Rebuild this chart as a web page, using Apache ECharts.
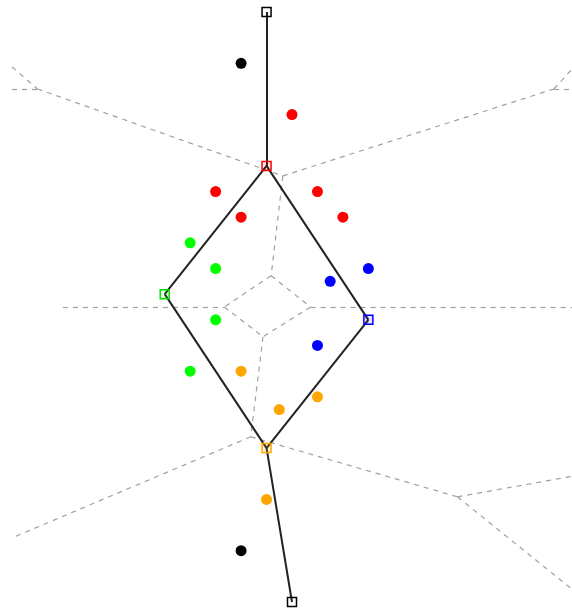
<!DOCTYPE html>
<html>
<head>
<meta charset="utf-8">
<script src="https://cdn.jsdelivr.net/npm/echarts@6/dist/echarts.min.js"></script>
<style>
  html, body { margin: 0; padding: 0; background: #fff; }
  #chart { width: 572px; height: 612px; }
</style>
</head>
<body>
<div id="chart"></div>
<script>
// Sample points, grouped by cluster
const redPoints = [[1, 6], [-2, 3], [2, 3], [-1, 2], [3, 2]];
const greenPoints = [[-3, 1], [-2, 0], [-2, -2], [-3, -4]];
const bluePoints = [[4, 0], [2.5, -0.5], [2, -3]];
const orangePoints = [[-1, -4], [0.5, -5.5], [2, -5], [0, -9]];
const blackPoints = [[-1, 8], [-1, -11]];

// Network nodes and their links
const nodeNames = ['top', 'red', 'green', 'blue', 'orange', 'bottom'];
const nodePositions = [[0, 10], [0, 4], [-4, -1], [4, -2], [0, -7], [1, -13]];
const nodeColors = ['#000000', '#ff0000', '#00dd00', '#0000ff', '#ffa500', '#000000'];
const nodeFills = ['rgba(255,255,255,0)', 'rgba(255,0,0,0.08)', 'rgba(0,255,0,0.12)', 'rgba(0,0,255,0.12)', 'rgba(255,165,0,0.12)', 'rgba(255,255,255,0)'];
const nodeLinks = [[0, 1], [1, 2], [1, 3], [2, 4], [3, 4], [4, 5]];

// Cell boundaries (segment endpoints)
const boundarySegments = [
  [[-10, 7], [-9, 7]],
  [[-10, 7.86], [-9, 7]],
  [[-9, 7], [0.64, 3.61]],
  [[0.64, 3.61], [11.29, 7.0]],
  [[11.29, 7.0], [12, 7.0]],
  [[11.29, 7.0], [12, 7.77]],
  [[0.64, 3.61], [0.18, -0.28]],
  [[0.18, -0.28], [-1.66, -1.5]],
  [[0.18, -0.28], [1.73, -1.5]],
  [[-1.66, -1.5], [-0.14, -2.66]],
  [[1.73, -1.5], [-0.14, -2.66]],
  [[-8, -1.5], [-1.66, -1.5]],
  [[1.73, -1.5], [12, -1.5]],
  [[-0.14, -2.66], [-0.62, -6.56]],
  [[-0.62, -6.56], [-10, -10.5]],
  [[-0.62, -6.56], [7.5, -8.9]],
  [[7.5, -8.9], [12, -8.1]],
  [[7.5, -8.9], [12, -12.5]]
];

const chart = echarts.init(document.getElementById('chart'), null, { renderer: 'canvas' });

const pointSeries = (data, color) => ({
  type: 'scatter',
  data: data,
  symbol: 'circle',
  symbolSize: 11,
  itemStyle: { color: color, opacity: 1 },
  z: 5,
  silent: true
});

chart.setOption({
  animation: false,
  backgroundColor: '#ffffff',
  grid: { left: 12, top: 12, width: 564.3, height: 590, containLabel: false },
  xAxis: { type: 'value', min: -10, max: 12, show: false },
  yAxis: { type: 'value', min: -13, max: 10, show: false },
  series: [
    {
      type: 'lines',
      coordinateSystem: 'cartesian2d',
      data: boundarySegments.map(s => ({ coords: s })),
      lineStyle: { color: '#a0a0a0', width: 1.2, type: [5, 5], opacity: 1 },
      z: 1,
      silent: true
    },
    {
      type: 'lines',
      coordinateSystem: 'cartesian2d',
      data: nodeLinks.map(([a, b]) => ({ coords: [nodePositions[a], nodePositions[b]] })),
      lineStyle: { color: '#222222', width: 2, opacity: 1 },
      z: 2,
      silent: true
    },
    {
      type: 'scatter',
      data: nodePositions.map((p, i) => ({
        name: nodeNames[i],
        value: p,
        itemStyle: { color: nodeFills[i], borderColor: nodeColors[i], borderWidth: 1.5, opacity: 1 }
      })),
      symbol: 'rect',
      symbolSize: 9,
      z: 4,
      silent: true
    },
    pointSeries(redPoints, '#ff0000'),
    pointSeries(greenPoints, '#00ff00'),
    pointSeries(bluePoints, '#0000ff'),
    pointSeries(orangePoints, '#ffa500'),
    pointSeries(blackPoints, '#000000')
  ]
});
</script>
</body>
</html>
